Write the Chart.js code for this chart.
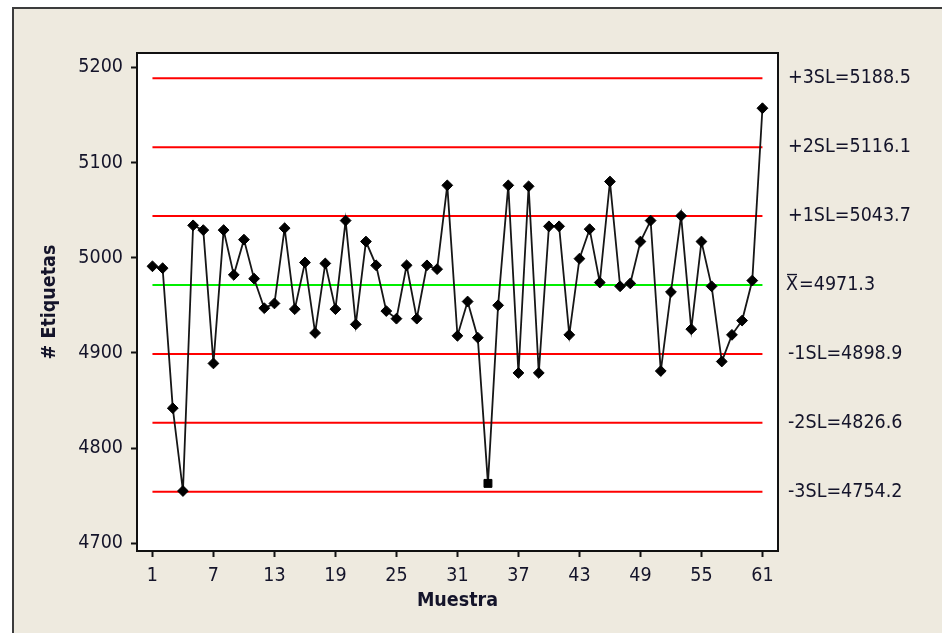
<!DOCTYPE html>
<html lang="es">
<head>
<meta charset="utf-8">
<script src="https://cdn.jsdelivr.net/npm/chart.js@4.4.1/dist/chart.umd.min.js"></script>
<style>
  html, body { margin: 0; padding: 0; background: #ffffff; }
  #wrap { width: 942px; height: 633px; position: relative; }
</style>
</head>
<body>
<div id="wrap"><canvas id="grafico" width="942" height="633"></canvas></div>
<script>
// Número de etiquetas contadas en cada muestra
const valores = [
  4991, 4989, 4842, 4755, 5034, 5029, 4889, 5029, 4982, 5019,
  4978, 4947, 4952, 5031, 4946, 4995, 4921, 4994, 4946, 5039,
  4930, 5017, 4992, 4944, 4936, 4992, 4936, 4992, 4988, 5076,
  4918, 4954, 4916, 4763, 4950, 5076, 4879, 5075, 4879, 5033,
  5033, 4919, 4999, 5030, 4974, 5080, 4970, 4973, 5017, 5039,
  4881, 4964, 5044, 4925, 5017, 4970, 4891, 4919, 4934, 4976,
  5157
];
const muestras = valores.map((_, i) => i + 1);
const ticksMuestra = [1, 7, 13, 19, 25, 31, 37, 43, 49, 55, 61];
const ticksEtiquetas = [4700, 4800, 4900, 5000, 5100, 5200];

// Media y límites sigma
const limites = [5188.5, 5116.1, 5043.7, 4971.3, 4898.9, 4826.6, 4754.2];
const nombresLimites = ['+3SL', '+2SL', '+1SL', 'X', '-1SL', '-2SL', '-3SL'];
const indiceMedia = 3;
const muestrasMarcadas = [34];

const FUENTE = "'DejaVu Sans Condensed', 'DejaVu Sans', sans-serif";
const TAM = 19.5;
const TEXTO = '#14142a';
const FONDO = '#eeeadf';

const primera = muestras[0];
const ultima = muestras[muestras.length - 1];

const datasetsLimites = limites.map((v, i) => ({
  label: nombresLimites[i],
  data: [{ x: primera, y: v }, { x: ultima, y: v }],
  borderColor: i === indiceMedia ? '#00ee00' : '#ff0000',
  borderWidth: 2,
  pointRadius: 0,
  order: 2,
  fill: false
}));

const serie = {
  label: '# Etiquetas',
  data: muestras.map((m, i) => ({ x: m, y: valores[i] })),
  borderColor: '#161616',
  borderWidth: 1.8,
  pointStyle: muestras.map(m => muestrasMarcadas.includes(m) ? 'rect' : 'rectRot'),
  pointRadius: muestras.map(m => muestrasMarcadas.includes(m) ? 5.6 : 5.4),
  pointBackgroundColor: '#000',
  pointBorderColor: '#000',
  pointBorderWidth: 1,
  tension: 0,
  order: 0,
  fill: false
};

// Panel, marco del área de trazado y rótulos de los límites
const decorado = {
  id: 'decorado',
  beforeDraw(chart) {
    const { ctx, width, height, chartArea: a } = chart;
    ctx.save();
    ctx.fillStyle = '#ffffff';
    ctx.fillRect(0, 0, width, height);
    ctx.fillStyle = FONDO;
    ctx.fillRect(13, 8, width - 13, height - 8);
    ctx.strokeStyle = '#3c3c3c';
    ctx.lineWidth = 2;
    ctx.beginPath();
    ctx.moveTo(13, height);
    ctx.lineTo(13, 8);
    ctx.lineTo(width, 8);
    ctx.stroke();
    ctx.fillStyle = '#ffffff';
    ctx.fillRect(a.left, a.top, a.right - a.left, a.bottom - a.top);
    ctx.restore();
  },
  afterDraw(chart) {
    const { ctx, chartArea: a, scales } = chart;
    ctx.save();
    ctx.strokeStyle = '#111';
    ctx.lineWidth = 2;
    ctx.strokeRect(a.left, a.top, a.right - a.left, a.bottom - a.top);
    ctx.fillStyle = TEXTO;
    ctx.strokeStyle = TEXTO;
    ctx.font = TAM + 'px ' + FUENTE;
    ctx.textAlign = 'left';
    ctx.textBaseline = 'middle';
    limites.forEach((v, i) => {
      const y = scales.y.getPixelForValue(v);
      if (i === indiceMedia) {
        // X con barra superior
        const x = a.right + 8;
        const wx = ctx.measureText('X').width;
        ctx.fillText('X', x, y);
        ctx.lineWidth = 1.4;
        ctx.beginPath();
        ctx.moveTo(x + 1, y - 10.5);
        ctx.lineTo(x + wx - 1, y - 10.5);
        ctx.stroke();
        ctx.fillText('=' + v.toFixed(1), x + wx + 1, y);
      } else {
        ctx.fillText(nombresLimites[i] + '=' + v.toFixed(1), a.right + 10, y);
      }
    });
    ctx.restore();
  }
};

new Chart(document.getElementById('grafico'), {
  type: 'line',
  data: { datasets: [serie, ...datasetsLimites] },
  options: {
    responsive: false,
    animation: false,
    events: [],
    layout: { padding: { left: 0, top: 53, right: 164, bottom: 0 } },
    plugins: { legend: { display: false }, tooltip: { enabled: false } },
    scales: {
      x: {
        type: 'linear',
        min: -0.52,
        max: 62.53,
        afterBuildTicks: s => { s.ticks = ticksMuestra.map(v => ({ value: v })); },
        afterFit: s => { s.height = 82; },
        grid: { display: true, drawOnChartArea: false, drawTicks: true, tickLength: 6, tickColor: '#111', tickWidth: 2 },
        border: { display: false },
        ticks: { color: TEXTO, font: { family: FUENTE, size: TAM }, padding: 7, maxRotation: 0, autoSkip: false, callback: v => String(v) },
        title: { display: true, text: 'Muestra', color: TEXTO, font: { family: FUENTE, size: TAM, weight: 'bold' }, padding: { top: 0, bottom: 20 } }
      },
      y: {
        type: 'linear',
        min: 4692,
        max: 5215,
        afterBuildTicks: s => { s.ticks = ticksEtiquetas.map(v => ({ value: v })); },
        afterFit: s => { s.width = 137; },
        grid: { display: true, drawOnChartArea: false, drawTicks: true, tickLength: 6, tickColor: '#111', tickWidth: 2 },
        border: { display: false },
        ticks: { color: TEXTO, font: { family: FUENTE, size: TAM }, padding: 8, autoSkip: false, callback: v => String(v) },
        title: { display: true, text: '# Etiquetas', color: TEXTO, font: { family: FUENTE, size: TAM, weight: 'bold' }, padding: { top: 38, bottom: 0 } }
      }
    }
  },
  plugins: [decorado]
});
</script>
</body>
</html>
